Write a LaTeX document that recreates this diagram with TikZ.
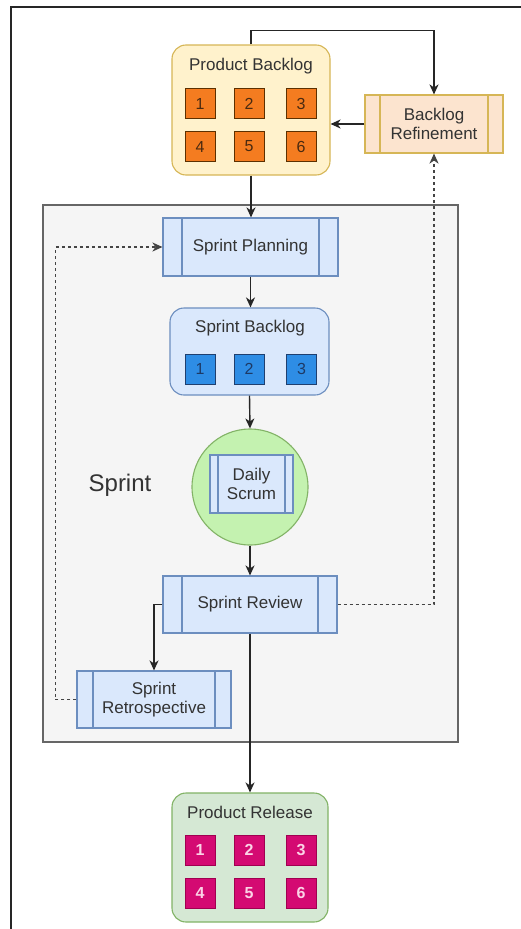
\documentclass[tikz,border=0pt]{standalone}
\usepackage{fontspec}
\setmainfont{Liberation Sans}
\usetikzlibrary{arrows.meta}
\definecolor{txt}{HTML}{333333}
\definecolor{pbF}{HTML}{FFF2CC}
\definecolor{pbB}{HTML}{D6B656}
\definecolor{orF}{HTML}{F47C20}
\definecolor{orB}{HTML}{5C3000}
\definecolor{orT}{HTML}{4A2A10}
\definecolor{refF}{HTML}{FCE4CF}
\definecolor{blF}{HTML}{DAE8FC}
\definecolor{blB}{HTML}{6C8EBF}
\definecolor{bsF}{HTML}{2E8DE5}
\definecolor{bsB}{HTML}{1F3F6F}
\definecolor{bsT}{HTML}{1D3A66}
\definecolor{sprF}{HTML}{F5F5F5}
\definecolor{sprB}{HTML}{666666}
\definecolor{grF}{HTML}{C4F2B0}
\definecolor{grB}{HTML}{82B366}
\definecolor{prF}{HTML}{D5E8D4}
\definecolor{mgF}{HTML}{D40A72}
\definecolor{mgB}{HTML}{A00050}
\definecolor{mgT}{HTML}{FBD3E6}
\definecolor{dotc}{HTML}{444444}
\tikzset{
  lbl/.style={font=\fontsize{17}{19.5}\selectfont, text=txt, align=center},
  proc/.style n args={3}{draw=#2, fill=#3, line width=1.1pt, inner sep=0pt, lbl,
    path picture={\draw[#2, line width=1.1pt]
      ([xshift=#1]path picture bounding box.north west) -- ([xshift=#1]path picture bounding box.south west)
      ([xshift=-#1]path picture bounding box.north east) -- ([xshift=-#1]path picture bounding box.south east);}},
  sq/.style n args={3}{draw=#1, fill=#2, text=#3, minimum size=30pt, inner sep=0pt, line width=1pt,
    font=\fontsize{16}{16}\selectfont},
  grp/.style 2 args={draw=#1, fill=#2, rounded corners=14pt, line width=1.1pt, inner sep=0pt},
  arr/.style={-{Stealth[length=10pt,width=9pt,inset=3pt]}, line width=1.4pt, draw=black!85},
  dot/.style={-{Stealth[length=10pt,width=9pt,inset=3pt]}, dash pattern=on 3pt off 3pt, line width=1.5pt, draw=dotc},
}
\begin{document}
\begin{tikzpicture}[x=1pt,y=-1pt]
\useasboundingbox (0,0) rectangle (521,929);
\fill[white] (0,0) rectangle (521,929);
% screenshot frame
\draw[line width=1.6pt, black!85] (11,929) -- (11,7) -- (521,7);

% Product Backlog
\node[grp={pbB}{pbF}, minimum width=158pt, minimum height=130pt] (pb) at (251,110) {};
\node[lbl] (pbt) at (251,66) {Product Backlog};
\node[sq={orB}{orF}{orT}] (pb1) at (200,103.5) {1};
\node[sq={orB}{orF}{orT}] (pb2) at (249,103.5) {2};
\node[sq={orB}{orF}{orT}] (pb3) at (301,103.5) {3};
\node[sq={orB}{orF}{orT}] (pb4) at (200,146.5) {4};
\node[sq={orB}{orF}{orT}] (pb5) at (249,146.5) {5};
\node[sq={orB}{orF}{orT}] (pb6) at (301,146.5) {6};

% Backlog Refinement
\node[proc={15pt}{pbB}{refF}, minimum width=138pt, minimum height=58pt] (ref) at (434,124) {Backlog\\Refinement};

% Sprint container
\node[draw=sprB, fill=sprF, line width=1.2pt, minimum width=415pt, minimum height=537pt, inner sep=0pt] (spr) at (250.5,473.5) {};
\node[font=\fontsize{24}{24}\selectfont, text=txt] (sprl) at (120,485) {Sprint};

% Sprint Planning
\node[proc={19pt}{blB}{blF}, minimum width=175pt, minimum height=58pt] (plan) at (250.5,247) {Sprint Planning};

% Sprint Backlog
\node[grp={blB}{blF}, minimum width=159pt, minimum height=87pt] (sb) at (249.5,351.5) {};
\node[lbl] (sbt) at (250,328) {Sprint Backlog};
\node[sq={bsB}{bsF}{bsT}] (sb1) at (200,369) {1};
\node[sq={bsB}{bsF}{bsT}] (sb2) at (249,369) {2};
\node[sq={bsB}{bsF}{bsT}] (sb3) at (301.5,369) {3};

% Daily Scrum
\node[circle, draw=grB, fill=grF, minimum size=116pt, line width=1.1pt, inner sep=0pt] (ds) at (250,487) {};
\node[proc={8pt}{blB}{blF}, minimum width=83pt, minimum height=58pt] (dsin) at (251.5,484) {Daily\\Scrum};

% Sprint Review
\node[proc={19pt}{blB}{blF}, minimum width=174pt, minimum height=57pt] (rev) at (250,604.5) {Sprint Review};

% Sprint Retrospective
\node[proc={16pt}{blB}{blF}, minimum width=154pt, minimum height=57pt] (retro) at (154,699.5) {Sprint\\Retrospective};

% Product Release
\node[grp={grB}{prF}, minimum width=156pt, minimum height=129pt] (pr) at (250,857.5) {};
\node[lbl] (prt) at (250,812) {Product Release};
\node[sq={mgB}{mgF}{mgT}, font=\fontsize{16}{16}\selectfont\bfseries] (pr1) at (200,850) {1};
\node[sq={mgB}{mgF}{mgT}, font=\fontsize{16}{16}\selectfont\bfseries] (pr2) at (249,850) {2};
\node[sq={mgB}{mgF}{mgT}, font=\fontsize{16}{16}\selectfont\bfseries] (pr3) at (301,850) {3};
\node[sq={mgB}{mgF}{mgT}, font=\fontsize{16}{16}\selectfont\bfseries] (pr4) at (200,893) {4};
\node[sq={mgB}{mgF}{mgT}, font=\fontsize{16}{16}\selectfont\bfseries] (pr5) at (249,893) {5};
\node[sq={mgB}{mgF}{mgT}, font=\fontsize{16}{16}\selectfont\bfseries] (pr6) at (301,893) {6};

% connectors
\draw[arr] (pb.north) -- ++(0,-14) -| (ref.north);
\draw[arr] (ref.west) -- (ref.west -| pb.east);
\draw[arr] (pb.south) -- (pb.south |- plan.north);
\draw[arr] (plan.south) -- (plan.south |- sb.north);
\draw[arr] (sb.south) -- (ds.north);
\draw[arr] (ds.south) -- (rev.north);
\draw[arr] (rev.west) -| (retro.north);
\draw[arr] (rev.south) -- (pr.north);
\draw[dot] (rev.east) -| (ref.south);
\draw[dot] (retro.west) -- ++(-21,0) |- (plan.west);
\end{tikzpicture}
\end{document}
